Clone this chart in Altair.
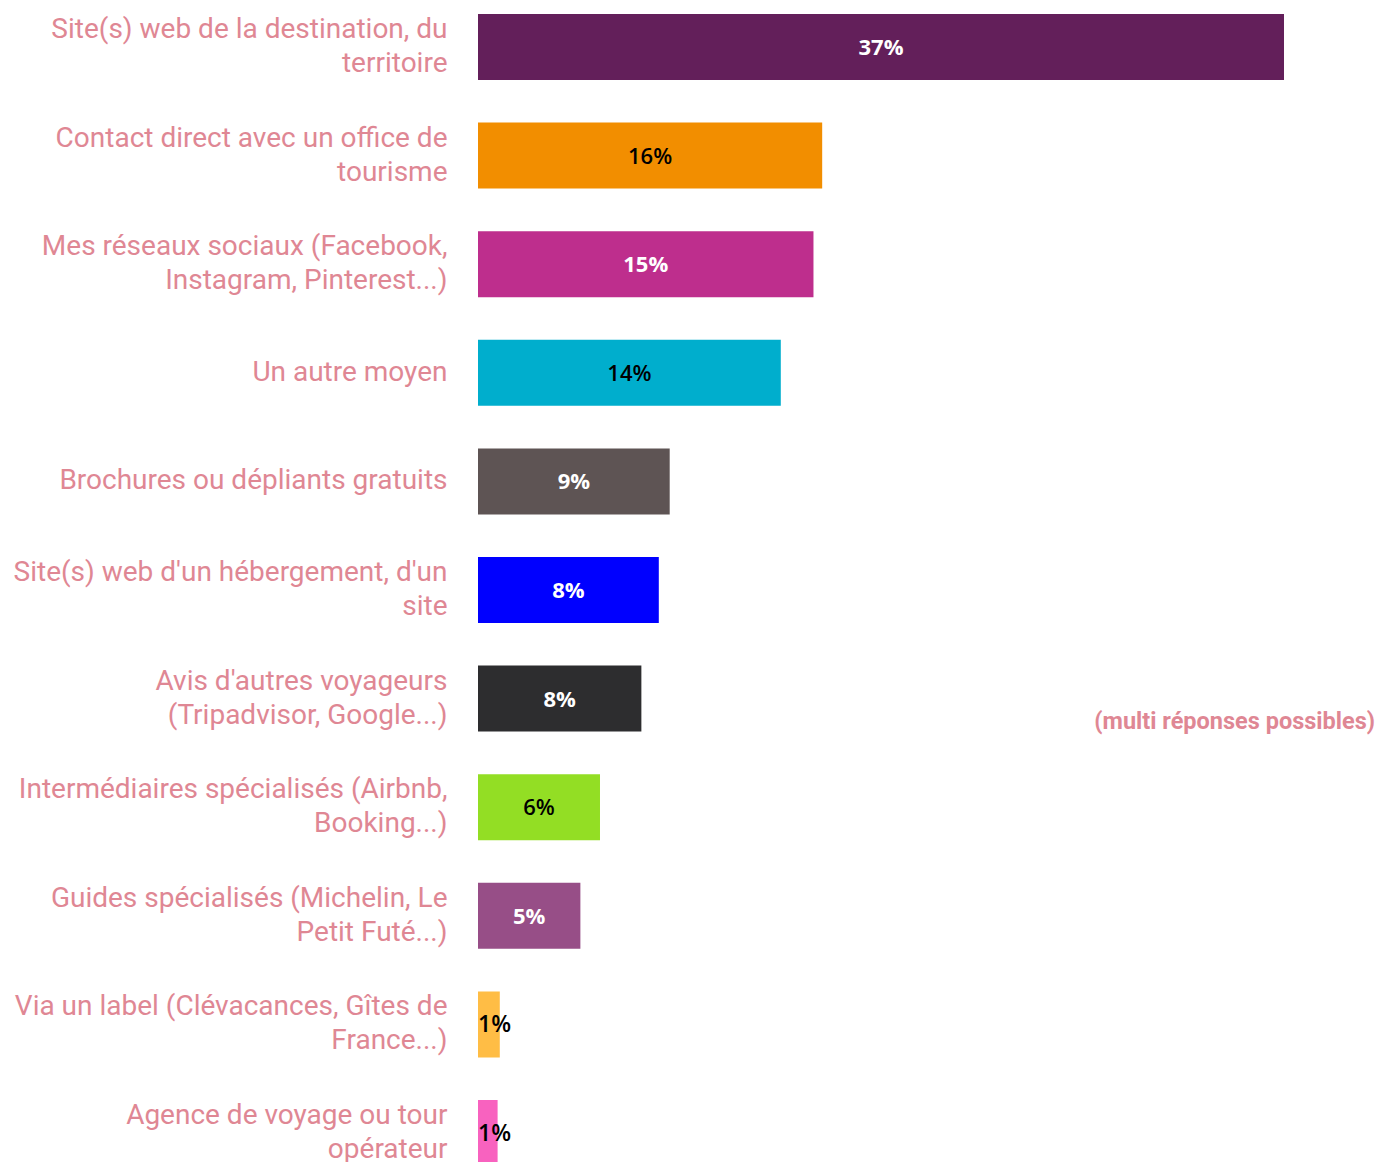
import altair as alt
import pandas as pd

categories = [
    "Site(s) web de la destination, du\nterritoire",
    "Contact direct avec un office de\ntourisme",
    "Mes réseaux sociaux (Facebook,\nInstagram, Pinterest...)",
    "Un autre moyen",
    "Brochures ou dépliants gratuits",
    "Site(s) web d'un hébergement, d'un\nsite",
    "Avis d'autres voyageurs\n(Tripadvisor, Google...)",
    "Intermédiaires spécialisés (Airbnb,\nBooking...)",
    "Guides spécialisés (Michelin, Le\nPetit Futé...)",
    "Via un label (Clévacances, Gîtes de\nFrance...)",
    "Agence de voyage ou tour\nopérateur",
]
values = [37.0, 15.8, 15.4, 13.9, 8.8, 8.3, 7.5, 5.6, 4.7, 1.0, 0.9]
labels = ["37%", "16%", "15%", "14%", "9%", "8%", "8%", "6%", "5%", "1%", "1%"]
colors = ["#631F5A", "#F28E00", "#BE2E8D", "#00AECD", "#5E5454", "#0000FF",
          "#2D2D2F", "#93DE24", "#974E87", "#FFBD45", "#F862BF"]
text_colors = ["white", "black", "white", "black", "white", "white",
               "white", "black", "white", "black", "black"]
note = "(multi réponses possibles)"

df = pd.DataFrame({
    "cat": categories,
    "value": values,
    "label": labels,
    "color": colors,
    "tcolor": text_colors,
    "half": [v / 2 for v in values],
})

LABEL_COLOR = "#DF8794"

y_enc = alt.Y(
    "cat:N",
    sort=categories,
    scale=alt.Scale(paddingInner=0.392, paddingOuter=0),
    axis=alt.Axis(
        title=None, domain=False, ticks=False, grid=False,
        labelExpr="split(datum.value, '\\n')",
        labelFont="Roboto", labelFontSize=28, labelColor=LABEL_COLOR,
        labelPadding=31, labelLineHeight=34, labelLimit=0,
        labelBaseline="middle",
        labelOffset={"condition": {"test": "indexof(datum.value, '\\n') >= 0", "value": -17}, "value": 0},
    ),
)
x_scale = alt.Scale(domain=[0, 37], nice=False, zero=True)

base = alt.Chart(df)

bars = base.mark_bar(cornerRadius=0).encode(
    x=alt.X("value:Q", scale=x_scale, axis=None),
    y=y_enc,
    color=alt.Color("color:N", scale=None),
)

text_white = base.transform_filter(
    "datum.tcolor == 'white'"
).mark_text(font="Open Sans", fontSize=22, fontWeight="bold", baseline="middle", align="center", dy=1).encode(
    x=alt.X("half:Q", scale=x_scale),
    y=alt.Y("cat:N", sort=categories),
    text="label:N",
    color=alt.Color("tcolor:N", scale=None),
)

text_black = base.transform_filter(
    "datum.tcolor == 'black' && datum.value >= 2"
).mark_text(font="Open Sans", fontSize=22, fontWeight=600, baseline="middle", align="center", dy=1).encode(
    x=alt.X("half:Q", scale=x_scale),
    y=alt.Y("cat:N", sort=categories),
    text="label:N",
    color=alt.Color("tcolor:N", scale=None),
)

text_small = base.transform_filter(
    "datum.value < 2"
).mark_text(font="Open Sans", fontSize=23, fontWeight=600, baseline="middle", align="left", dy=1).encode(
    x=alt.value(0),
    y=alt.Y("cat:N", sort=categories),
    text="label:N",
    color=alt.Color("tcolor:N", scale=None),
)

note_df = pd.DataFrame({"t": [note]})
note_layer = alt.Chart(note_df).mark_text(
    font="Roboto", fontSize=23.5, fontWeight="bold", color=LABEL_COLOR,
    align="right", baseline="middle",
).encode(
    x=alt.value(897),
    y=alt.value(708),
    text="t:N",
)

chart = alt.layer(bars, text_white, text_black, text_small, note_layer).properties(
    width=806,
    height=1152,
    padding={"left": 470, "top": 6, "right": 94, "bottom": 4},
    autosize=alt.AutoSizeParams(type="none"),
).configure_view(stroke=None)

chart.save("out.html", embed_options={"renderer": "svg", "actions": False})
